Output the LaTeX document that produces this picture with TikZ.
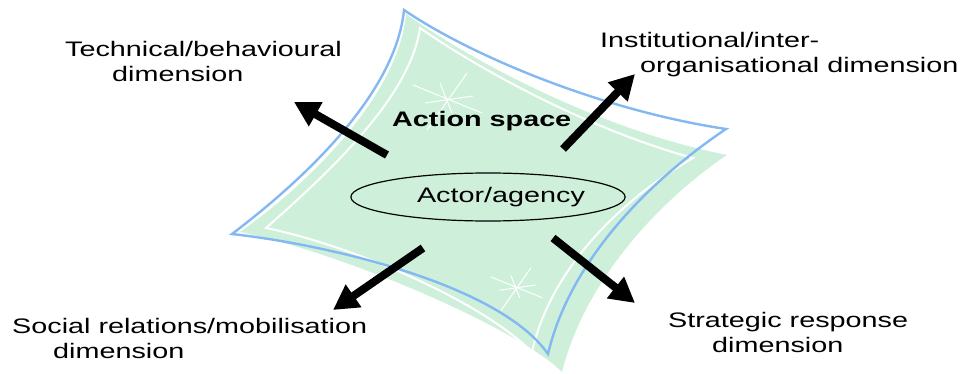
\documentclass[tikz,border=0pt]{standalone}
\usepackage{fontspec}
\setmainfont{Liberation Sans}[FakeStretch=1.37]
\usetikzlibrary{arrows.meta,shapes.geometric}

\definecolor{sheetgreen}{RGB}{206,240,218}
\definecolor{sheetblue}{RGB}{132,184,242}

\tikzset{
  dimlabel/.style={anchor=base west, align=left, inner sep=0pt,
    font=\fontsize{21}{25}\selectfont},
  bigarrow/.style={line width=8pt, -{Triangle[length=25pt,width=26pt]}},
  sparkline/.style={white, line width=1pt},
}

% a white star on the sheet
\newcommand{\sparkle}[2]{%
  \begin{scope}[shift={#1}, scale=#2]
    \draw[sparkline] (-34,-15) -- (35,13);
    \draw[sparkline] (20,-27) -- (-20,30);
    \draw[sparkline] (-22,3) -- (26,-4);
    \draw[sparkline] (-7,-17) -- (5,13);
  \end{scope}}

\begin{document}
\begin{tikzpicture}[x=1pt,y=-1pt]
    \useasboundingbox (0,0) rectangle (968,374);
    % the sheet
    \fill[sheetgreen] (406,14) .. controls (470,60) and (600,130) .. (727,155)
        .. controls (660,200) and (585,280) .. (562,372)
        .. controls (520,330) and (350,255) .. (240,232)
        .. controls (300,190) and (398,100) .. cycle;
    \draw[white, line width=2pt] (420,28) .. controls (480,70) and (590,130) .. (693,158)
        .. controls (620,200) and (550,270) .. (532,352)
        .. controls (480,300) and (350,245) .. (266,228)
        .. controls (320,180) and (410,100) .. cycle;
    \draw[sheetblue, line width=2.4pt, line join=miter] (404,10) .. controls (470,55) and (600,110) .. (726,129)
        .. controls (650,180) and (570,260) .. (548,354)
        .. controls (500,285) and (330,245) .. (232,234)
        .. controls (290,190) and (395,100) .. cycle;
    \sparkle{(447,100)}{1}
    \sparkle{(516,288)}{0.75}

    \node[draw, ellipse, minimum width=222pt, minimum height=48pt, inner sep=0pt,
        line width=1.2pt, font=\fontsize{21}{25}\selectfont] (actor) at (488,197)
        {\hspace*{26pt}Actor/agency};
    \node[dimlabel, font=\fontsize{21}{25}\selectfont\bfseries] (space) at (392,127) {Action space};

    % the four dimensions (anchored on the last line)
    \node[dimlabel] (tech) at (65,82) {Technical/behavioural\\\hspace*{47pt}dimension};
    \node[dimlabel] (inst) at (600,73) {Institutional/inter-\\\hspace*{40pt}organisational dimension};
    \node[dimlabel] (social) at (12,358) {Social relations/mobilisation\\\hspace*{41pt}dimension};
    \node[dimlabel] (strat) at (668,352) {Strategic response\\\hspace*{44pt}dimension};

    \coordinate (ulTail) at (387,155);
    \coordinate (ulTip) at (294,102);
    \coordinate (urTail) at (563,149);
    \coordinate (urTip) at (635,74);
    \coordinate (llTail) at (423,248);
    \coordinate (llTip) at (333,310);
    \coordinate (lrTail) at (553,238);
    \coordinate (lrTip) at (635,303);
    \draw[bigarrow] (ulTail) -- (ulTip);
    \draw[bigarrow] (urTail) -- (urTip);
    \draw[bigarrow] (llTail) -- (llTip);
    \draw[bigarrow] (lrTail) -- (lrTip);
\end{tikzpicture}
\end{document}
